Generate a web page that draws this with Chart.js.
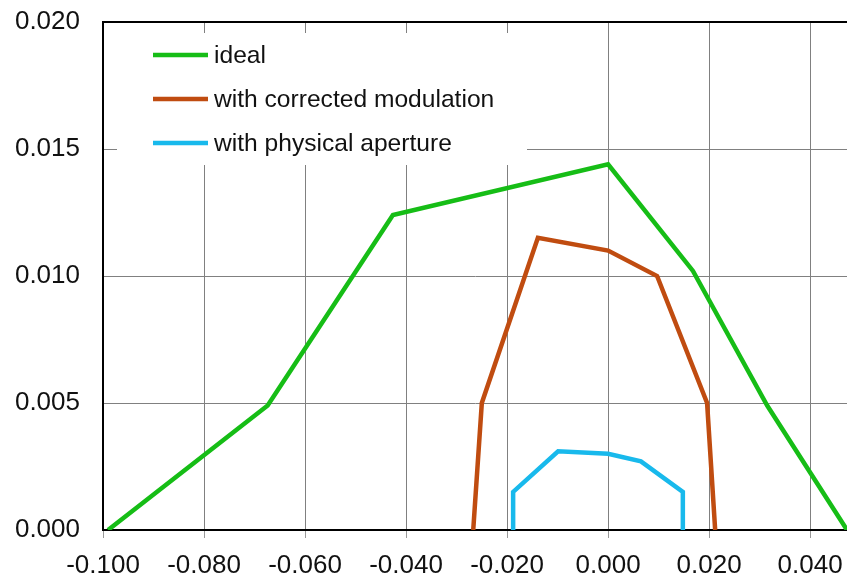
<!DOCTYPE html>
<html>
<head>
<meta charset="utf-8">
<title>Aperture curves</title>
<script src="https://cdn.jsdelivr.net/npm/chart.js@4/dist/chart.umd.min.js"></script>
<style>
  html, body { margin: 0; padding: 0; background: #fff; }
  #wrap { width: 847px; height: 579px; }
</style>
</head>
<body>
<div id="wrap"><canvas id="chart" width="847" height="579"></canvas></div>
<script>
// series data, x/y pairs in the same units as the axes
const seriesLabels = ['ideal', 'with corrected modulation', 'with physical aperture'];
const seriesColors = ['#16bd16', '#c04c10', '#18b9ec'];

const idealX = [-0.0990, -0.0674, -0.0426, 0.0000, 0.0168, 0.0315, 0.0473];
const idealY = [0.0000, 0.0049, 0.0124, 0.0144, 0.0102, 0.0049, 0.0000];

const correctedX = [-0.0267, -0.0250, -0.0139, 0.0000, 0.0097, 0.0196, 0.0212];
const correctedY = [0.0000, 0.0050, 0.0115, 0.0110, 0.0100, 0.0050, 0.0000];

const apertureX = [-0.0188, -0.0188, -0.0099, 0.0000, 0.0065, 0.0148, 0.0148];
const apertureY = [0.0000, 0.0015, 0.0031, 0.0030, 0.0027, 0.0015, 0.0000];

const xTickValues = [-0.100, -0.080, -0.060, -0.040, -0.020, 0.000, 0.020, 0.040];
const yTickValues = [0.000, 0.005, 0.010, 0.015, 0.020];

const FONT = "'Liberation Sans', Arial, sans-serif";

function toPoints(xs, ys) {
    return xs.map((x, i) => ({ x: x, y: ys[i] }));
}

const allSeries = [
    toPoints(idealX, idealY),
    toPoints(correctedX, correctedY),
    toPoints(apertureX, apertureY)
];

// legend sits inside the plot on a white card that hides the grid behind it
const insideLegend = {
    id: 'insideLegend',
    afterDatasetsDraw(chart) {
        const ctx = chart.ctx;
        const area = chart.chartArea;
        const boxX = area.left + 14, boxY = area.top + 11;
        ctx.save();
        ctx.fillStyle = '#fff';
        ctx.fillRect(boxX, boxY, 410, 132);
        ctx.font = '24.6px ' + FONT;
        ctx.textBaseline = 'middle';
        ctx.lineWidth = 4.5;
        chart.data.datasets.forEach((ds, i) => {
            const y = boxY + 22 + i * 44;
            ctx.strokeStyle = ds.borderColor;
            ctx.beginPath();
            ctx.moveTo(boxX + 36, y);
            ctx.lineTo(boxX + 91, y);
            ctx.stroke();
            ctx.fillStyle = '#111';
            ctx.fillText(ds.label, boxX + 97, y + 1);
        });
        ctx.restore();
    }
};

// black line along the top of the plot
const topFrame = {
    id: 'topFrame',
    afterDraw(chart) {
        const ctx = chart.ctx;
        const area = chart.chartArea;
        ctx.save();
        ctx.strokeStyle = '#000';
        ctx.lineWidth = 2;
        ctx.beginPath();
        ctx.moveTo(area.left, area.top);
        ctx.lineTo(area.right, area.top);
        ctx.stroke();
        ctx.restore();
    }
};

new Chart(document.getElementById('chart'), {
    type: 'scatter',
    data: {
        datasets: allSeries.map((pts, i) => ({
            label: seriesLabels[i],
            data: pts,
            showLine: true,
            borderColor: seriesColors[i],
            backgroundColor: seriesColors[i],
            borderWidth: 4.5,
            pointRadius: 0,
            tension: 0
        }))
    },
    options: {
        responsive: false,
        animation: false,
        layout: { padding: { top: 22, right: 0, bottom: 0, left: 0 } },
        plugins: {
            legend: { display: false },
            tooltip: { enabled: false }
        },
        scales: {
            x: {
                type: 'linear',
                min: -0.100,
                max: 0.0473,
                afterBuildTicks: (scale) => { scale.ticks = xTickValues.map(v => ({ value: v })); },
                afterFit: (scale) => {
                    scale.height = 49;
                    scale.paddingLeft = 0;
                    scale.paddingRight = 0;
                },
                border: { color: '#000', width: 2 },
                grid: { color: '#808080', lineWidth: 1, tickLength: 8, tickColor: '#999' },
                ticks: {
                    color: '#111',
                    padding: 12,
                    maxRotation: 0,
                    autoSkip: false,
                    font: { family: FONT, size: 26 },
                    callback: (v) => v.toFixed(3)
                }
            },
            y: {
                min: 0,
                max: 0.020,
                afterBuildTicks: (scale) => { scale.ticks = yTickValues.map(v => ({ value: v })); },
                afterFit: (scale) => {
                    scale.width = 103;
                    scale.paddingTop = 0;
                    scale.paddingBottom = 0;
                },
                border: { color: '#000', width: 2 },
                grid: { color: '#808080', lineWidth: 1, drawTicks: false },
                ticks: {
                    color: '#111',
                    padding: 23,
                    font: { family: FONT, size: 26 },
                    callback: (v) => v.toFixed(3)
                }
            }
        }
    },
    plugins: [insideLegend, topFrame]
});
</script>
</body>
</html>
